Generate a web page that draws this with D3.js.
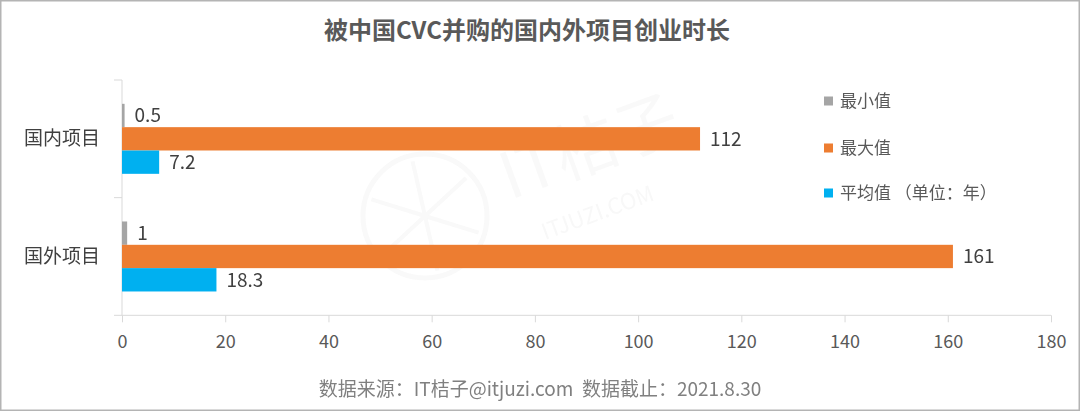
<!DOCTYPE html>
<html><head><meta charset="utf-8">
<script src="https://cdn.jsdelivr.net/npm/d3@7"></script>
<style>
html,body{margin:0;padding:0;background:#fff;}
svg{display:block;font-family:"Noto Sans CJK SC","Noto Sans",sans-serif;}
</style></head>
<body>
<svg id="c" width="1080" height="411"></svg>
<script>
const title = "被中国CVC并购的国内外项目创业时长";
const categories = ["国内项目", "国外项目"];
const seriesNames = ["最小值", "最大值", "平均值 （单位：年）"];
const minValues = [0.5, 1];
const maxValues = [112, 161];
const avgValues = [7.2, 18.3];
const valueLabels = [["0.5", "112", "7.2"], ["1", "161", "18.3"]];
const xTicks = [0, 20, 40, 60, 80, 100, 120, 140, 160, 180];
const source = "数据来源：IT桔子@itjuzi.com  数据截止：2021.8.30";
const colors = ["#A5A5A5", "#ED7D31", "#00B0F0"];

const svg = d3.select("#c");
const W = 1080, H = 411;

// frame
svg.append("rect").attr("x",0.75).attr("y",0.75).attr("width",W-1.5).attr("height",H-1.5)
  .attr("fill","#fff").attr("stroke","#b4b4b4").attr("stroke-width",1.5);

// watermark
const wm = svg.append("g").attr("opacity",0.45);
wm.append("circle").attr("cx",425).attr("cy",216).attr("r",62).attr("fill","none").attr("stroke","#f1f1f1").attr("stroke-width",5);
for (let i=0;i<6;i++){ const a=i*Math.PI/3+0.3;
  wm.append("line").attr("x1",425).attr("y1",216).attr("x2",425+56*Math.cos(a)).attr("y2",216+56*Math.sin(a)).attr("stroke","#f1f1f1").attr("stroke-width",4);}
wm.append("text").attr("transform","translate(510,200) rotate(-20)").attr("font-size",64).attr("fill","#f2f2f2").text("IT桔子");
wm.append("text").attr("transform","translate(545,240) rotate(-20)").attr("font-size",22).attr("fill","#efefef").text("ITJUZI.COM");

const x = d3.scaleLinear().domain([0,180]).range([122,1051]);
const y = d3.scaleBand().domain(categories).range([80,315.3]).paddingInner(0).paddingOuter(0);
const groupH = 70;
const sub = d3.scaleBand().domain([0,1,2]).range([0,groupH]);

// title
svg.append("text").attr("x",527).attr("y",31).attr("dy","0.35em").attr("text-anchor","middle")
  .attr("font-size",24).attr("font-weight","bold").attr("fill","#595959").text(title);

// x axis
const xAxis = d3.axisBottom(x).tickValues(xTicks).tickSize(7).tickFormat(d3.format("d"));
const gx = svg.append("g").attr("transform","translate(0,315.3)").call(xAxis);
gx.select(".domain").remove();
gx.append("line").attr("x1",114).attr("x2",1051).attr("y1",0).attr("y2",0).attr("stroke","#d9d9d9");
gx.selectAll(".tick line").attr("stroke","#d9d9d9");
gx.selectAll(".tick text").attr("font-size",18).attr("fill","#595959").attr("y",20)
  .attr("font-family","'Noto Sans CJK SC',sans-serif");

// y axis line + category ticks
svg.append("line").attr("x1",122).attr("x2",122).attr("y1",80).attr("y2",315.3).attr("stroke","#d9d9d9");
[80, 197.65].forEach(v=>svg.append("line").attr("x1",114).attr("x2",122).attr("y1",v).attr("y2",v).attr("stroke","#d9d9d9"));

// category labels
svg.append("g").selectAll("text").data(categories).join("text")
  .attr("x",100).attr("y",d=>y(d)+y.bandwidth()/2).attr("dy","0.35em")
  .attr("text-anchor","end").attr("font-size",19).attr("fill","#404040").text(d=>d);

// bars
const rows = categories.map((c,i)=>({cat:c, vals:[minValues[i],maxValues[i],avgValues[i]], labels:valueLabels[i]}));
const g = svg.append("g");
rows.forEach(r=>{
  const top = y(r.cat) + (y.bandwidth()-groupH)/2;
  r.vals.forEach((v,j)=>{
    g.append("rect").attr("x",x(0)).attr("y",top+sub(j)).attr("width",x(v)-x(0)).attr("height",sub.bandwidth()).attr("fill",colors[j]);
    g.append("text").attr("x",x(v)+10).attr("y",top+sub(j)+sub.bandwidth()/2).attr("dy","0.36em")
      .attr("font-size",19).attr("fill","#404040").text(r.labels[j]);
  });
});

// legend
const ly = [101, 148, 193];
const lg = svg.append("g");
seriesNames.forEach((n,i)=>{
  lg.append("rect").attr("x",824).attr("y",ly[i]-4.5).attr("width",9).attr("height",9).attr("fill",colors[i]);
  lg.append("text").attr("x",840).attr("y",ly[i]).attr("dy","0.35em").attr("font-size",17).attr("fill","#595959").text(n);
});

// source
svg.append("text").attr("x",540).attr("y",389).attr("dy","0.35em").attr("text-anchor","middle")
  .attr("font-size",19).attr("fill","#808080").attr("xml:space","preserve").style("white-space","pre").text(source);
</script>
</body></html>
